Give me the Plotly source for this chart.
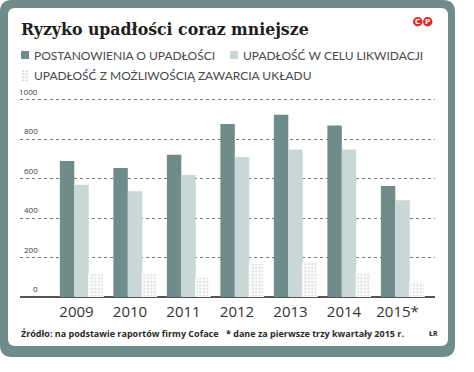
import plotly.graph_objects as go

years = ["2009", "2010", "2011", "2012", "2013", "2014", "2015*"]
postanowienia = [690, 655, 722, 878, 925, 870, 563]
likwidacja = [570, 537, 619, 711, 748, 748, 491]
uklad = [119, 119, 101, 170, 177, 124, 76]
yticks = [0, 200, 400, 600, 800, 1000]

DARK = "#6f8b8a"
LIGHT = "#c9d7d6"
FRAME = "#6f8b8a"
TXT = "#3a3a3a"

W, H = 474, 372
PX0, PX1 = 20, 435
PYB, PYT = 297, 98


def px(x):
    return (x - PX0) / (PX1 - PX0)


def py(y):
    return (PYB - y) / (PYB - PYT)


def rrect(x0, y0, x1, y1, r):
    pts = [
        f"M{px(x0 + r)},{py(y0)}",
        f"L{px(x1 - r)},{py(y0)}",
        f"Q{px(x1)},{py(y0)} {px(x1)},{py(y0 + r)}",
        f"L{px(x1)},{py(y1 - r)}",
        f"Q{px(x1)},{py(y1)} {px(x1 - r)},{py(y1)}",
        f"L{px(x0 + r)},{py(y1)}",
        f"Q{px(x0)},{py(y1)} {px(x0)},{py(y1 - r)}",
        f"L{px(x0)},{py(y0 + r)}",
        f"Q{px(x0)},{py(y0)} {px(x0 + r)},{py(y0)}",
        "Z",
    ]
    return " ".join(pts)


fig = go.Figure()
fig.add_trace(go.Bar(x=years, y=postanowienia, name="POSTANOWIENIA O UPADŁOŚCI",
                     marker=dict(color=DARK, line=dict(width=0))))
fig.add_trace(go.Bar(x=years, y=likwidacja, name="UPADŁOŚĆ W CELU LIKWIDACJI",
                     marker=dict(color=LIGHT, line=dict(width=0))))
fig.add_trace(go.Bar(x=years, y=uklad, name="UPADŁOŚĆ Z MOŻLIWOŚCIĄ ZAWARCIA UKŁADU",
                     marker=dict(color="white",
                                 line=dict(width=1, color="white"),
                                 pattern=dict(shape=".", fgcolor="#c4c4c4", bgcolor="white",
                                              size=3.5, solidity=0.45))))

shapes = [
    dict(type="path", xref="paper", yref="paper", path=rrect(0, 0, 455, 357, 12),
         fillcolor=FRAME, line=dict(width=0), layer="below"),
    dict(type="path", xref="paper", yref="paper", path=rrect(8, 8, 448, 346, 7),
         fillcolor="white", line=dict(width=0), layer="below"),
    # legend squares
    dict(type="rect", xref="paper", yref="paper", x0=px(21), x1=px(29), y0=py(51), y1=py(59),
         fillcolor=DARK, line=dict(width=0)),
    dict(type="rect", xref="paper", yref="paper", x0=px(230), x1=px(238), y0=py(51), y1=py(59),
         fillcolor=LIGHT, line=dict(width=0)),
    # logo circles
    dict(type="circle", xref="paper", yref="paper", x0=px(413), x1=px(422.5), y0=py(17), y1=py(26.5),
         fillcolor="#e8262c", line=dict(width=0)),
    dict(type="circle", xref="paper", yref="paper", x0=px(423), x1=px(432.5), y0=py(17), y1=py(26.5),
         fillcolor="#e8262c", line=dict(width=0)),
]

ann = []
ann.append(dict(text="<b>Ryzyko upadłości coraz mniejsze</b>", x=px(19), y=py(29), xref="paper", yref="paper",
                xanchor="left", yanchor="middle", showarrow=False,
                font=dict(family="DejaVu Serif Condensed, DejaVu Serif", size=17.5, color="#1e1e1e")))
for lx, txt in [(413, "C"), (423, "P")]:
    ann.append(dict(text=f"<b>{txt}</b>", x=px(lx + 4.75), y=py(21.75), xref="paper", yref="paper",
                    xanchor="center", yanchor="middle", showarrow=False,
                    font=dict(family="DejaVu Sans", size=7, color="white")))
leg_font = dict(family="Lato", size=12, color="#4a4a4a")
ann.append(dict(text="POSTANOWIENIA O UPADŁOŚCI", x=px(32), y=py(55.5), xref="paper", yref="paper",
                xanchor="left", yanchor="middle", showarrow=False, font=leg_font))
ann.append(dict(text="UPADŁOŚĆ W CELU LIKWIDACJI", x=px(241), y=py(55.5), xref="paper", yref="paper",
                xanchor="left", yanchor="middle", showarrow=False, font=leg_font))
ann.append(dict(text="⣿", x=px(25), y=py(75), xref="paper", yref="paper",
                xanchor="center", yanchor="middle", showarrow=False,
                font=dict(family="DejaVu Sans", size=11, color="#cfcfcf")))
ann.append(dict(text="UPADŁOŚĆ Z MOŻLIWOŚCIĄ ZAWARCIA UKŁADU", x=px(32), y=py(75), xref="paper", yref="paper",
                xanchor="left", yanchor="middle", showarrow=False, font=leg_font))
for v in yticks:
    ann.append(dict(text=str(v), x=px(39.5), y=v, xref="paper", yref="y",
                    xanchor="right", yanchor="bottom", yshift=1, showarrow=False,
                    font=dict(family="Open Sans", size=8, color=TXT)))
foot = dict(family="Open Sans", size=9, color="#2a2a2a")
ann.append(dict(text="<b>Źródło: na podstawie raportów firmy Coface</b>", x=px(19), y=py(333),
                xref="paper", yref="paper", xanchor="left", yanchor="middle", showarrow=False, font=foot))
ann.append(dict(text="<b>* dane za pierwsze trzy kwartały 2015 r.</b>", x=px(224), y=py(333),
                xref="paper", yref="paper", xanchor="left", yanchor="middle", showarrow=False, font=foot))
ann.append(dict(text="<b>ŁR</b>", x=px(427), y=py(333),
                xref="paper", yref="paper", xanchor="left", yanchor="middle", showarrow=False,
                font=dict(family="Open Sans", size=7, color="#2a2a2a")))

fig.update_layout(
    width=W, height=H,
    margin=dict(l=PX0, r=W - PX1, t=PYT, b=H - PYB, pad=0),
    paper_bgcolor="white", plot_bgcolor="rgba(0,0,0,0)",
    barmode="group", bargap=0.19, bargroupgap=0,
    showlegend=False,
    shapes=shapes, annotations=ann,
    xaxis=dict(type="category", range=[-1.15, 6.607], showgrid=False, showline=False,
               ticks="", ticklabelshift=-5, ticklabelstandoff=4,
               tickfont=dict(family="Open Sans", size=15, color="#333333")),
    yaxis=dict(range=[0, 1010], tickvals=yticks, showticklabels=False,
               showgrid=True, gridcolor="#7a7a7a", gridwidth=1, griddash="dot",
               zeroline=True, zerolinecolor="#555555", zerolinewidth=1.5, showline=False),
)

fig.write_html("out.html", config={"displayModeBar": False},
               post_script="document.body.style.margin='0';")
